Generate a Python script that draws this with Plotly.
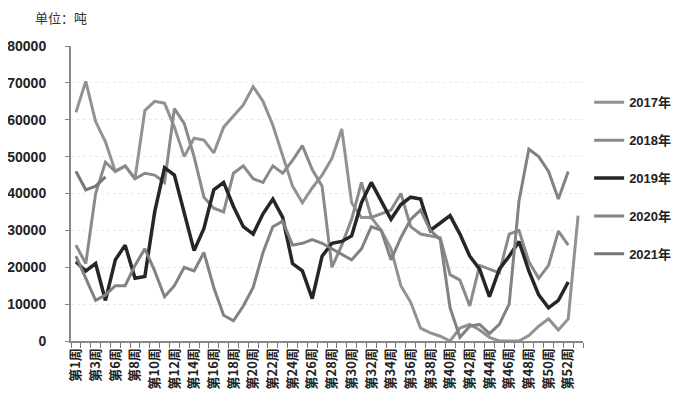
import plotly.graph_objects as go

weeks = ["第1周", "第2周", "第3周", "第4周"] + [f"第{w}周" for w in range(6, 54)]
tick_labels = [w if i % 2 == 0 else "" for i, w in enumerate(weeks)]

y2017 = [62000, 70400, 59500, 54000, 46000, 47500, 44000, 62500, 65000, 64500,
         58000, 50000, 55000, 54500, 51000, 58000, 61000, 64000, 69000, 65000,
         58500, 50000, 42000, 37500, 41500, 45000, 49500, 57500, 37500, 33500,
         33500, 30000, 25000, 15000, 10500, 3500, 2200, 1300, 0, 3500,
         4500, 3000, 1000, 0, 0, 0, 1500, 4000, 6000, 3000,
         6000, 34000]
y2018 = [26000, 21000, 40000, 48500, 46000, 47500, 44000, 45500, 45000, 43000,
         63000, 59000, 50000, 39000, 36000, 35000, 45500, 47500, 44000, 43000,
         47500, 45500, 49000, 53000, 46500, 42000, 20000, 26000, 33000, 43000,
         33500, 34500, 35500, 40000, 31000, 29000, 28500, 28000, 18000, 16500,
         9500, 20500, 19500, 18500, 29000, 30000, 21500, 17000, 20500, 29800,
         26000, None]
y2019 = [21500, 19000, 21000, 11000, 22000, 26000, 17000, 17500, 35000, 47000,
         45000, 35000, 24500, 30500, 41000, 43000, 36500, 31000, 29000, 34500,
         38500, 33500, 21000, 19000, 11500, 23000, 26500, 27000, 28500, 37500,
         43000, 38000, 33000, 37000, 39000, 38500, 30000, 32000, 34000, 29000,
         23000, 19500, 12000, 19500, 23000, 27000, 19000, 12500, 9000, 11000,
         16000, None]
y2020 = [23000, 17000, 11000, 12500, 15000, 15000, 20500, 25000, 19000, 12000,
         15000, 20000, 19000, 24000, 14500, 7000, 5500, 9500, 14500, 24000,
         31000, 32500, 26000, 26500, 27500, 26500, 25000, 23500, 22000, 25000,
         31000, 30000, 22000, 28000, 33000, 35500, 30000, 27500, 9000, 1000,
         4000, 4500, 2000, 4500, 10000, 38000, 52000, 50000, 46000, 38500,
         46000, None]
y2021 = [46000, 41000, 42000, 44500]

series = [
    ("2017年", y2017, "#929292", 3),
    ("2018年", y2018, "#8a8a8a", 3),
    ("2019年", y2019, "#262626", 3.5),
    ("2020年", y2020, "#828282", 3),
    ("2021年", y2021, "#767676", 3),
]

fig = go.Figure()
for name, ys, color, w in series:
    fig.add_trace(go.Scatter(
        x=weeks[:len(ys)], y=ys, name=name, mode="lines",
        line=dict(color=color, width=w), legendgroup=name,
        connectgaps=False,
    ))

fig.update_layout(
    width=687, height=399,
    margin=dict(l=63, r=112, t=38, b=66),
    paper_bgcolor="white", plot_bgcolor="white",
    font=dict(family="Liberation Sans, Noto Sans CJK SC", color="#222"),
    showlegend=True,
    legend=dict(
        x=1.012, y=0.86, xanchor="left", yanchor="top",
        font=dict(size=13, family="Liberation Sans, Noto Sans CJK SC", color="#222", weight="bold"),
        tracegroupgap=18, bgcolor="rgba(0,0,0,0)",
    ),
)
fig.add_annotation(text="单位：吨", xref="paper", yref="paper",
                   x=-0.075, y=1.095, xanchor="left", yanchor="middle",
                   showarrow=False,
                   font=dict(size=13, family="Noto Sans CJK SC", color="#333"))

fig.update_xaxes(
    type="category", categoryorder="array", categoryarray=weeks,
    range=[-0.5, len(weeks) - 0.5],
    tickmode="array", tickvals=weeks, ticktext=tick_labels,
    tickson="boundaries", ticks="outside", ticklen=5, tickcolor="#777", tickwidth=1,
    tickangle=-90, automargin=False,
    tickfont=dict(size=13, family="Noto Sans CJK SC", color="#222", weight="bold"),
    showline=True, linecolor="#888", linewidth=2,
    showgrid=False, zeroline=False,
)
fig.update_yaxes(
    range=[0, 80000], tickmode="linear", tick0=0, dtick=10000, tickformat="d",
    ticks="outside", ticklen=4, tickcolor="#888", automargin=False,
    tickfont=dict(size=14, family="Liberation Sans", color="#222", weight="bold"),
    showline=True, linecolor="#888", linewidth=2,
    showgrid=True, gridcolor="#ebebeb", griddash="dot", gridwidth=1,
    zeroline=False, ticklabelstandoff=16,
)

fig.write_html("out.html")
